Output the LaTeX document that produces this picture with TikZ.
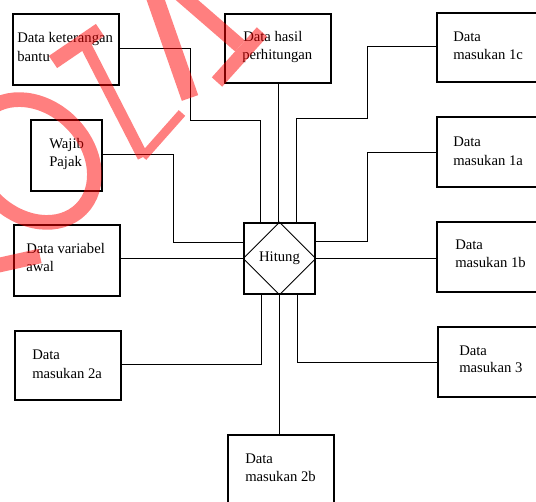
\documentclass[tikz,border=0pt]{standalone}
\usepackage{fontspec}
\setmainfont{Liberation Serif}
\usetikzlibrary{calc}
\newcommand\bx[5]{\node[box, minimum width={(#4-#2)*0.75pt}, minimum height={(#5-#3)*0.75pt}] (#1) at ({(#2+#4)/2},{(#3+#5)/2}) {};}
\newcommand\lbltxt[4]{\node[lbl] (#1) at (#2,#3) {#4};}
\begin{document}
\begin{tikzpicture}[x=0.75pt,y=-0.75pt,
  box/.style={draw, line width=1pt, inner sep=0pt},
  wire/.style={draw, line width=0.7pt},
  lbl/.style={anchor=base west, inner sep=0pt, font=\fontsize{11}{13}\selectfont},
  wm/.style={draw=red, line cap=butt}]
\useasboundingbox (0,0) rectangle (536,502);
% boxes
\bx{kb}{13}{14}{119}{85}
\bx{hp}{225}{14}{331}{83}
\bx{mic}{437}{13}{541}{82}
\bx{mia}{437}{117}{541}{187}
\bx{mib}{437}{222}{541}{292}
\bx{miii}{438}{327}{541}{397}
\bx{wp}{31}{120}{102}{191}
\bx{va}{14}{225}{120}{296}
\bx{miia}{15}{331}{121}{400}
\bx{miib}{228}{435}{334}{507}
\bx{hit}{244}{223}{315}{294}
\draw[line width=0.7pt] (hit.north) -- (hit.east) -- (hit.south) -- (hit.west) -- cycle;
\node[inner sep=0pt, font=\fontsize{11}{13}\selectfont] (hitt) at (hit.center) {Hitung};
% labels
\lbltxt{kbt1}{17}{43}{Data keterangan}
\lbltxt{kbt2}{17}{62}{bantu}
\lbltxt{hpt1}{243}{42}{Data hasil}
\lbltxt{hpt2}{242}{60}{perhitungan}
\lbltxt{mict1}{453}{42}{Data}
\lbltxt{mict2}{453}{60}{masukan 1c}
\lbltxt{miat1}{453}{147}{Data}
\lbltxt{miat2}{453}{166}{masukan 1a}
\lbltxt{mibt1}{455}{250}{Data}
\lbltxt{mibt2}{455}{268}{masukan 1b}
\lbltxt{miiit1}{459}{356}{Data}
\lbltxt{miiit2}{459}{373}{masukan 3}
\lbltxt{wpt1}{49}{149}{Wajib}
\lbltxt{wpt2}{49}{167}{Pajak}
\lbltxt{vat1}{26}{254}{Data variabel}
\lbltxt{vat2}{26}{272}{awal}
\lbltxt{miiat1}{32}{360}{Data}
\lbltxt{miiat2}{32}{379}{masukan 2a}
\lbltxt{miibt1}{245}{464}{Data}
\lbltxt{miibt2}{245}{481}{masukan 2b}
% junctions
\coordinate (ja) at (190,120);
\coordinate (jb) at (367,118);
\coordinate (jc) at (173,242);
\coordinate (jd) at (367,241);
% connectors
\draw[wire] ($(kb.north east)+(0,35)$) -| (ja) -| ($(hit.north)+(-19.5,0)$);
\draw[wire] (hp.south) -- (hp.south |- hit.north);
\draw[wire] ($(mic.north west)+(0,34)$) -| (jb) -| ($(hit.north)+(16.5,0)$);
\draw[wire] ($(wp.north east)+(0,35)$) -| (jc) -- (jc -| hit.west);
\draw[wire] (hit.west) -- (hit.west -| va.east);
\draw[wire] ($(mia.north west)+(0,36)$) -| (jd) -- (jd -| hit.east);
\draw[wire] (hit.east) -- (hit.east -| mib.west);
\draw[wire] ($(miia.north east)+(0,34)$) -| ($(hit.south)+(-18.5,0)$);
\draw[wire] ($(miii.north west)+(0,36)$) -| ($(hit.south)+(17.5,0)$);
\draw[wire] (hit.south) -- (hit.south |- miib.north);
% watermark
\begin{scope}[transparency group, opacity=0.5]
\draw[wm, line width=11pt, rotate around={-45:(33,161)}] (33,161) ellipse [x radius=51pt, y radius=40.5pt];
\draw[wm, line width=11pt] (-5,266) -- (40,256);
\draw[wm, line width=11pt] (53,62) -- (100,30);
\draw[wm, line width=8.5pt] (83,40) -- (143,157);
\draw[wm, line width=6.5pt] (143,157) -- (182,113);
\draw[wm, line width=13pt] (154,-5) -- (190,98);
\draw[wm, line width=11pt] (180,-6) -- (240,46);
\draw[wm, line width=10.5pt] (217,82) -- (262,32);
\end{scope}
\end{tikzpicture}
\end{document}
